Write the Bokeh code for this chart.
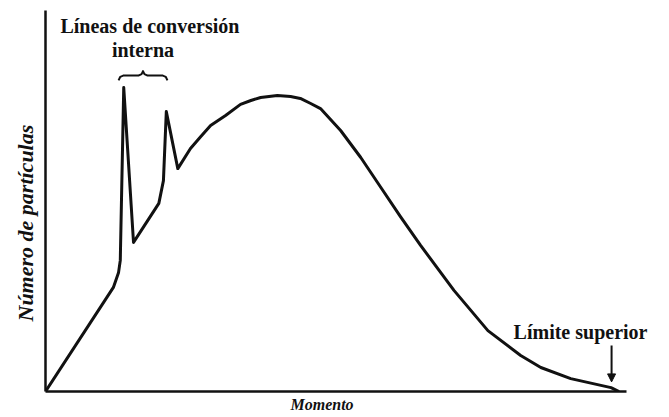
from bokeh.plotting import figure
from bokeh.models import Range1d, Arrow, NormalHead, ColumnDataSource, FixedTicker, Label, Title
from bokeh.core.properties import value
from bokeh.embed import file_html
from bokeh.resources import INLINE

# Momentum (arbitrary units, 0..100) and number of particles (arbitrary units)
momento = [0, 11.8, 12.7, 13.0, 13.6, 15.3, 19.7, 20.5, 21.0, 23.0, 25.2, 27.0,
           28.7, 31.3, 33.9, 35.7, 37.4, 40.3, 42.6, 44.3, 46.1, 47.8, 51.3,
           54.8, 58.3, 61.7, 65.2, 71.0, 76.9, 82.6, 86.1, 91.3, 98.3, 99.7]
particulas = [0, 34.7, 39.7, 43.7, 101.3, 49.7, 62.7, 70.3, 93.3, 74.3, 81.0, 85.0,
              88.7, 92.0, 95.7, 97.0, 98.0, 98.7, 98.3, 97.7, 96.0, 94.3, 87.0,
              78.0, 68.0, 58.3, 48.7, 33.7, 20.3, 12.0, 8.0, 4.3, 1.3, 0]

# Annotation texts
titulo_lineas = "Líneas de conversión"
titulo_interna = "interna"
titulo_limite = "Límite superior"
eje_x = "Momento"
eje_y = "Número de partículas"

# conversion-line peaks (indices into the series) and end point
pico1 = 4
pico2 = 8
fin = len(momento) - 1

FONT = "Liberation Serif"
INK = "#111111"

p = figure(width=669, height=417, output_backend="svg", toolbar_location=None,
           x_range=Range1d(0, 107.6), y_range=Range1d(0, 127),
           min_border_left=45, min_border_right=5, min_border_top=10,
           min_border_bottom=26)
p.outline_line_color = None
p.grid.visible = False
p.background_fill_color = "white"
p.border_fill_color = "white"

for ax in (p.xaxis[0], p.yaxis[0]):
    ax.ticker = FixedTicker(ticks=[])
    ax.major_tick_line_color = None
    ax.minor_tick_line_color = None
    ax.major_label_text_font_size = "0px"
    ax.axis_line_width = 2.5
    ax.axis_line_color = INK

p.xaxis.bounds = (0, 101)

# axis titles (placed as side titles so they sit where the original has them)
p.add_layout(Title(text=eje_x, align="left", offset=245, standoff=5, text_font=FONT,
                   text_font_size="16px", text_font_style="bold italic",
                   text_color=INK), "below")
p.add_layout(Title(text=eje_y, align="left", offset=70, standoff=15, text_font=FONT,
                   text_font_size="22px", text_font_style="bold italic",
                   text_color=INK), "left")

src = ColumnDataSource(dict(x=momento, y=particulas))
p.line("x", "y", source=src, line_width=3, line_color=INK, line_join="round")

# brace over the two conversion lines
left = momento[pico1] - 0.9
right = momento[pico2] + 0.2
mid = (left + right) / 2
y0 = particulas[pico1] + 4.0
bx = [left, left + 0.3, left + 0.8, mid - 0.8, mid - 0.25, mid, mid + 0.25, mid + 0.8,
      right - 0.8, right - 0.3, right]
by = [y0 - 1.6, y0 - 0.4, y0, y0, y0 + 0.5, y0 + 1.5, y0 + 0.5, y0, y0, y0 - 0.4, y0 - 1.6]
p.line(bx, by, line_width=2, line_color=INK, line_join="round")

cx = mid
p.text(x=[cx + 1.2], y=[y0 + 16.5], text=[titulo_lineas], text_font=value(FONT),
       text_font_size="20px", text_font_style="bold", text_align="center",
       text_baseline="middle", text_color=INK)
p.text(x=[cx], y=[y0 + 8.5], text=[titulo_interna], text_font=value(FONT),
       text_font_size="20px", text_font_style="bold", text_align="center",
       text_baseline="middle", text_color=INK)

ax_end = momento[fin] - 1.3
p.add_layout(Label(x=ax_end - 5.4, y=19.7, text=titulo_limite, text_font=FONT,
                   text_font_size="20px", text_font_style="bold", text_align="center",
                   text_baseline="middle", text_color=INK))
p.add_layout(Arrow(end=NormalHead(size=8, fill_color=INK, line_color=INK),
                   x_start=ax_end, y_start=15.3, x_end=ax_end, y_end=3.2,
                   line_width=2, line_color=INK))

open("out.html", "w").write(file_html(p, INLINE))
